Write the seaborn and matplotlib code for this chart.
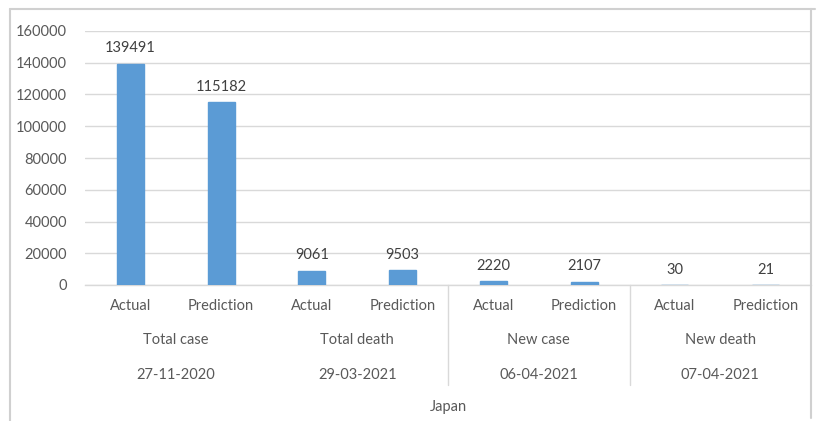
import matplotlib
matplotlib.use("Agg")
import matplotlib.pyplot as plt
import matplotlib.transforms as mtransforms
from matplotlib.lines import Line2D
import pandas as pd
import seaborn as sns

# Data
metrics = ["Total case", "Total death", "New case", "New death"]
dates = ["27-11-2020", "29-03-2021", "06-04-2021", "07-04-2021"]
kinds = ["Actual", "Prediction"]
actual = [139491, 9061, 2220, 30]
prediction = [115182, 9503, 2107, 21]
country = "Japan"
y_ticks = [0, 20000, 40000, 60000, 80000, 100000, 120000, 140000, 160000]

rows = []
for m, a, p in zip(metrics, actual, prediction):
    rows.append({"slot": f"{m}|Actual", "kind": "Actual", "value": a})
    rows.append({"slot": f"{m}|Prediction", "kind": "Prediction", "value": p})
df = pd.DataFrame(rows)

sns.set_theme(style="white")
plt.rcParams["font.family"] = ["Lato", "DejaVu Sans"]

W, H = 818, 421
fig = plt.figure(figsize=(W / 100, H / 100), dpi=100)
ax_left, ax_right, ax_top, ax_bottom = 85, 811, 31, 285
ax = fig.add_axes([ax_left / W, 1 - ax_bottom / H,
                   (ax_right - ax_left) / W, (ax_bottom - ax_top) / H])

bar_color = "#5B9BD5"
sns.barplot(data=df, x="slot", y="value", color=bar_color, width=0.3,
            saturation=1, edgecolor=bar_color, linewidth=1, ax=ax, zorder=3)

grid_c = "#D9D9D9"
text_c = "#595959"
lab_c = "#404040"
fs = 10.5

ax.set_ylim(0, 160000)
ax.set_xlim(-0.5, len(df) - 0.5)
ax.set_yticks(y_ticks)
ax.set_yticklabels([str(t) for t in y_ticks], color=text_c, fontsize=fs)
ax.yaxis.grid(True, color=grid_c, linewidth=1)
ax.set_axisbelow(True)
for s in ["top", "right", "left"]:
    ax.spines[s].set_visible(False)
ax.spines["bottom"].set_color(grid_c)
ax.spines["bottom"].set_linewidth(1)
ax.tick_params(axis="y", length=0, pad=13)
ax.tick_params(axis="x", length=0, pad=10)
ax.set_xticks(range(len(df)))
ax.set_xticklabels(df["kind"], color=text_c, fontsize=fs)
ax.set_xlabel("")
ax.set_ylabel("")

# Value labels above each bar
for i, v in enumerate(df["value"]):
    ax.annotate(str(v), (i, v), xytext=(0, 6), textcoords="offset points",
                ha="center", va="bottom", color=lab_c, fontsize=fs)

# Multi-level category axis
trans = mtransforms.blended_transform_factory(ax.transData, ax.transAxes)
h = ax_bottom - ax_top
for g, (m, d) in enumerate(zip(metrics, dates)):
    cx = 2 * g + 0.5
    ax.text(cx, -55 / h, m, transform=trans, ha="center", va="center",
            color=text_c, fontsize=fs)
    ax.text(cx, -90 / h, d, transform=trans, ha="center", va="center",
            color=text_c, fontsize=fs)
for xs in [3.5, 5.5]:
    ax.add_line(Line2D([xs, xs], [0, -100 / h], transform=trans,
                       color=grid_c, linewidth=1, clip_on=False))
ax.text(0.5, -122 / h, country, transform=ax.transAxes, ha="center",
        va="center", color=text_c, fontsize=fs)

# Chart frame
for xs, ys in [([10, 10], [9, H]), ([10, 815], [9, 9]), ([811, 811], [9, 418])]:
    fig.add_artist(Line2D([x / W for x in xs], [1 - y / H for y in ys],
                          transform=fig.transFigure, color="#D0D0D0",
                          linewidth=1.5))

fig.savefig("out.png", dpi=100, facecolor="white")
